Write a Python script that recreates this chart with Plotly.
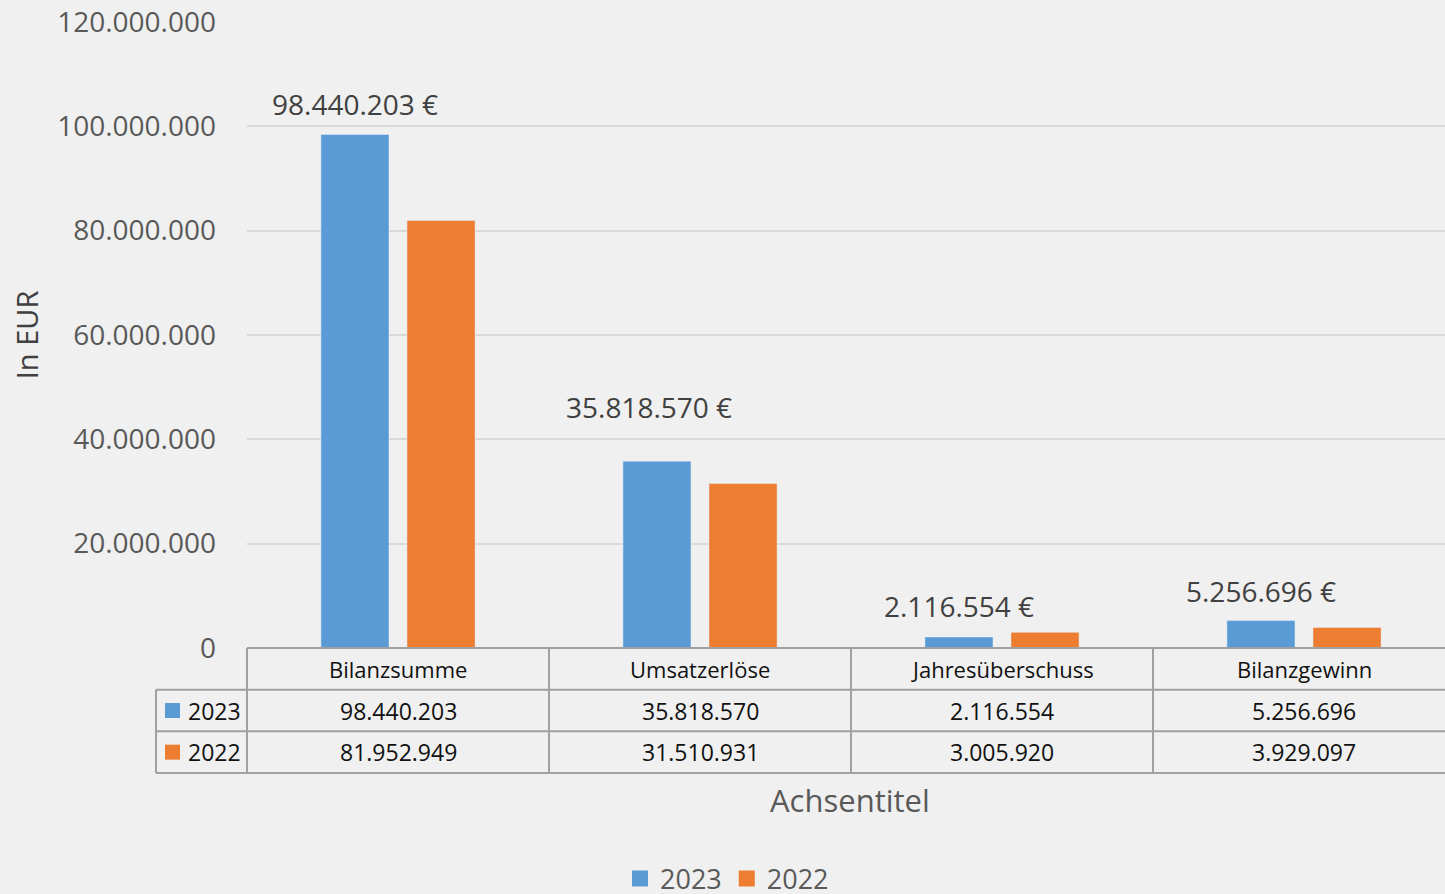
import plotly.graph_objects as go

categories = ["Bilanzsumme", "Umsatzerlöse", "Jahresüberschuss", "Bilanzgewinn"]
series_names = ["2023", "2022"]
v2023 = [98440203, 35818570, 2116554, 5256696]
v2022 = [81952949, 31510931, 3005920, 3929097]
ytick_vals = [0, 20000000, 40000000, 60000000, 80000000, 100000000, 120000000]

# style
W, H = 1445, 894
C23, C22 = "#5b9bd5", "#ed7d31"
FONT = "Open Sans"
GRID = "#d9d9d9"
BORDER = "#a0a0a0"
label_xshift = [0, -8, 0, 0]
label_yshift = [30, 54, 31, 30]

def de(v):
    return f"{v:,}".replace(",", ".")

# geometry (pixels)
plot_left, plot_right = 247, 1445
plot_top, plot_bottom = 22, 648
cat_px = 302.0
table_left = 150
row_px = (773 - 648) / 3.0

xr_lo = -0.5
xr_hi = xr_lo + (plot_right - plot_left) / cat_px
x2_lo = xr_lo + (table_left - plot_left) / cat_px
y2_lo, y2_hi = -0.12, 3.12
t_top_px = 773 - y2_hi * row_px
t_bot_px = 773 - y2_lo * row_px

bargap = 0.43
bargroupgap = 0.209
slot = (1 - bargap) / 2

xs = list(range(len(categories)))

fig = go.Figure()
fig.add_trace(go.Bar(x=xs, y=v2023, name=series_names[0], marker_color=C23,
                     showlegend=False, hoverinfo="skip"))
fig.add_trace(go.Bar(x=xs, y=v2022, name=series_names[1], marker_color=C22,
                     showlegend=False, hoverinfo="skip"))
# legend entries
for nm, col in zip(series_names, [C23, C22]):
    fig.add_trace(go.Scatter(x=[None], y=[None], mode="markers", name=nm,
                             marker=dict(symbol="square", size=16, color=col)))
# invisible trace to create table axes
fig.add_trace(go.Scatter(x=[None], y=[None], xaxis="x2", yaxis="y2", showlegend=False))

ann = []
for i, v in enumerate(v2023):
    ann.append(dict(x=i - slot / 2, y=v, xref="x", yref="y", text=de(v) + " €",
                    showarrow=False, xanchor="center", yanchor="middle",
                    xshift=label_xshift[i], yshift=label_yshift[i],
                    font=dict(family=FONT, size=28, color="#404040")))
for i, c in enumerate(categories):
    ann.append(dict(x=i, y=2.5, xref="x2", yref="y2", text=c, showarrow=False,
                    font=dict(family=FONT, size=22, color="#111111")))
    ann.append(dict(x=i, y=1.5, xref="x2", yref="y2", text=de(v2023[i]), showarrow=False,
                    font=dict(family=FONT, size=23, color="#111111")))
    ann.append(dict(x=i, y=0.5, xref="x2", yref="y2", text=de(v2022[i]), showarrow=False,
                    font=dict(family=FONT, size=23, color="#111111")))

row_left_x = x2_lo + (186 - table_left) / cat_px
sq_l = x2_lo + (165 - table_left) / cat_px
sq_r = x2_lo + (180 - table_left) / cat_px
sq_h = 7.5 / row_px
shapes = []
for nm, col, yc in [(series_names[0], C23, 1.5), (series_names[1], C22, 0.5)]:
    ann.append(dict(x=row_left_x, y=yc, xref="x2", yref="y2", text=nm, showarrow=False,
                    xanchor="left", font=dict(family=FONT, size=23, color="#111111")))
    shapes.append(dict(type="rect", xref="x2", yref="y2", x0=sq_l, x1=sq_r,
                       y0=yc - sq_h, y1=yc + sq_h, fillcolor=col, line=dict(width=0)))

ann.append(dict(x=0.5, y=1 - 800 / H, xref="x domain", yref="paper", text="Achsentitel",
                showarrow=False, xanchor="center", yanchor="middle", xshift=4,
                font=dict(family=FONT, size=31, color="#595959")))

line = dict(color=BORDER, width=2)
far = xr_hi + 0.2
edge_x = x2_lo + (156 - table_left) / cat_px
# horizontal table lines
shapes.append(dict(type="line", xref="x2", yref="y2", x0=-0.5, x1=far, y0=3, y1=3, line=line))
for yy in [2, 1, 0]:
    shapes.append(dict(type="line", xref="x2", yref="y2", x0=edge_x, x1=far, y0=yy, y1=yy, line=line))
# vertical table lines
shapes.append(dict(type="line", xref="x2", yref="y2", x0=edge_x, x1=edge_x, y0=0, y1=2, line=line))
for xx in [-0.5, 0.5, 1.5, 2.5]:
    shapes.append(dict(type="line", xref="x2", yref="y2", x0=xx, x1=xx, y0=0, y1=3, line=line))

fig.update_layout(
    width=W, height=H,
    margin=dict(l=0, r=0, t=0, b=0, autoexpand=False),
    paper_bgcolor="#f0f0f0", plot_bgcolor="rgba(0,0,0,0)",
    separators=",.",
    barmode="group", bargap=bargap, bargroupgap=bargroupgap,
    font=dict(family=FONT, color="#595959"),
    xaxis=dict(domain=[plot_left / W, 1], range=[xr_lo, xr_hi], showticklabels=False,
               showgrid=False, zeroline=False, showline=False, ticks="", automargin=False),
    yaxis=dict(domain=[1 - plot_bottom / H, 1 - plot_top / H], range=[0, 120000000],
               tickvals=ytick_vals, tickformat=",d", automargin=False,
               tickfont=dict(family=FONT, size=28, color="#595959"),
               ticklabelstandoff=30,
               gridcolor=GRID, gridwidth=2, zeroline=False, showline=False,
               title=dict(text="In EUR", standoff=10,
                          font=dict(family=FONT, size=29, color="#404040"))),
    xaxis2=dict(domain=[table_left / W, 1], range=[x2_lo, xr_hi], anchor="y2",
                visible=False),
    yaxis2=dict(domain=[1 - t_bot_px / H, 1 - t_top_px / H], range=[y2_lo, y2_hi],
                anchor="x2", visible=False),
    legend=dict(orientation="h", x=727 / W, xanchor="center", y=1 - 879 / H,
                yanchor="middle", font=dict(family=FONT, size=27, color="#595959"),
                bgcolor="rgba(0,0,0,0)", itemwidth=30),
    annotations=ann,
    shapes=shapes,
)

fig.write_html("out.html", config={"displayModeBar": False},
               post_script="document.body.style.margin='0';document.body.style.padding='0';")
